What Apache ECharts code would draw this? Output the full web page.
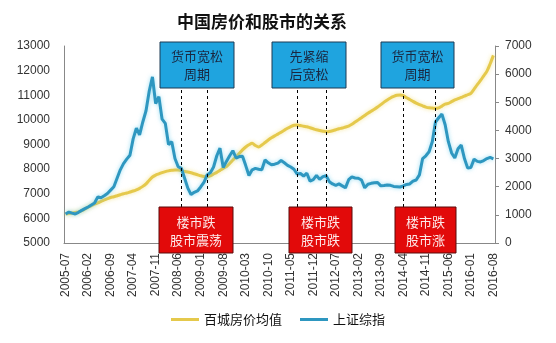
<!DOCTYPE html>
<html>
<head>
<meta charset="utf-8">
<script src="https://cdn.jsdelivr.net/npm/echarts@6/dist/echarts.min.js"></script>
<style>
  html, body { margin: 0; padding: 0; background: #fff; }
  #chart { width: 556px; height: 343px; }
</style>
</head>
<body>
<div id="chart"></div>
<script>
// Monthly samples, 2005-07 through 2016-08
const startYear = 2005, startMonth = 7, monthCount = 134;
const months = [];
for (let k = 0; k < monthCount; k++) {
  const m0 = startMonth - 1 + k;
  const y = startYear + Math.floor(m0 / 12);
  const m = (m0 % 12) + 1;
  months.push(y + '-' + (m < 10 ? '0' + m : '' + m));
}

// 百城房价均值 (元/平方米), left axis
const housePrice = [
  6180, 6200, 6220, 6240, 6260, 6310, 6380, 6450, 6520, 6580,
  6630, 6690, 6750, 6800, 6850, 6880, 6920, 6960, 7000, 7030,
  7070, 7110, 7160, 7220, 7300, 7400, 7550, 7680, 7760, 7810,
  7860, 7900, 7930, 7950, 7965, 7960, 7940, 7910, 7880, 7850,
  7810, 7770, 7730, 7700, 7690, 7730, 7800, 7870, 7950, 8030,
  8100, 8230, 8370, 8500, 8640, 8780, 8900, 8990, 9050, 8960,
  8900, 8980, 9080, 9180, 9270, 9350, 9420, 9500, 9580, 9660,
  9730, 9780, 9790, 9770, 9740, 9720, 9680, 9640, 9600, 9570,
  9540, 9520, 9530, 9560, 9600, 9640, 9670, 9710, 9750, 9820,
  9910, 10000, 10090, 10180, 10270, 10350, 10430, 10520, 10620, 10720,
  10810, 10890, 10950, 11000, 11010, 10980, 10900, 10830, 10750, 10680,
  10620, 10570, 10520, 10490, 10480, 10470, 10490, 10560, 10640, 10670,
  10740, 10810, 10860, 10910, 10960, 11020, 11080, 11250, 11430, 11600,
  11790, 11980, 12280, 12620
];

// 上证综指, right axis
const shIndex = [
  1030, 1100, 1060, 1030, 1090, 1160, 1220, 1280, 1350, 1420,
  1640, 1610, 1680, 1760, 1880, 2000, 2300, 2600, 2820, 2980,
  3120, 3700, 4080, 3840, 4300, 4700, 5400, 5900, 4950, 5200,
  4400, 4250, 3500, 3600, 3000, 2710, 2650, 2300, 1950, 1720,
  1800, 1850, 1990, 2150, 2420, 2500, 2700, 3100, 3370, 2680,
  2900, 3100, 3280, 3020, 3070, 3080, 2750, 2400, 2600, 2650,
  2620, 2600, 2950, 2850, 2780, 2800, 2840, 2930, 2850, 2760,
  2700, 2620, 2450, 2470, 2380, 2480, 2200, 2250, 2400, 2260,
  2360, 2390, 2180, 2100, 2050, 2100, 2030, 1960, 2250, 2350,
  2310, 2300, 2240, 1960, 2090, 2120, 2140, 2150, 2030, 2040,
  2060, 2050, 2010, 2000, 1990, 2030, 2080, 2100, 2200, 2240,
  2420, 3000, 3100, 3240, 3600, 4300, 4450, 4580, 4200, 3600,
  3200, 3020, 3350, 3480, 3000, 2660, 2680, 2980, 2900, 2880,
  2930, 3000, 3040, 2990
];

// Policy-period boundaries (dashed guides)
const periodMonths = ['2008-07', '2009-03', '2011-07', '2012-04', '2014-04', '2015-02'];

// Annotation texts
const policyNotes = ['货币宽松\n周期', '先紧缩\n后宽松', '货币宽松\n周期'];
const marketNotes = ['楼市跌\n股市震荡', '楼市跌\n股市跌', '楼市跌\n股市涨'];

const CJK = '"Noto Sans CJK SC", "Liberation Sans", sans-serif';
const LAT = '"Liberation Sans", Arial, sans-serif';
const yellow = '#e5c94c';
const blue = '#2e97c0';

// Annotation box placement
const policyBoxes = [
  { x: 160, w: 74 }, { x: 272, w: 74 }, { x: 381, w: 73 }
];
const marketBoxes = [
  { x: 159, w: 74 }, { x: 289, w: 63 }, { x: 395, w: 61 }
];

const graphics = [];
policyBoxes.forEach((b, k) => {
  graphics.push({
    type: 'rect', z: 100, silent: true,
    shape: { x: b.x, y: 42, width: b.w, height: 46 },
    style: { fill: '#1fa4df', stroke: '#1d3a55', lineWidth: 1 }
  });
  graphics.push({
    type: 'text', z: 101, silent: true,
    style: {
      text: policyNotes[k], x: b.x + b.w / 2, y: 65,
      align: 'center', verticalAlign: 'middle',
      fontSize: 13, fontFamily: CJK, lineHeight: 18, fill: '#1a2740'
    }
  });
});
marketBoxes.forEach((b, k) => {
  graphics.push({
    type: 'rect', z: 100, silent: true,
    shape: { x: b.x, y: 207, width: b.w, height: 46 },
    style: { fill: '#e20a0a', stroke: '#5a0a0a', lineWidth: 1 }
  });
  graphics.push({
    type: 'text', z: 101, silent: true,
    style: {
      text: marketNotes[k], x: b.x + b.w / 2, y: 231,
      align: 'center', verticalAlign: 'middle',
      fontSize: 13, fontFamily: CJK, lineHeight: 18, fill: '#fde8e8'
    }
  });
});

const plain = v => String(v);

const chart = echarts.init(document.getElementById('chart'), null, { renderer: 'canvas' });
chart.setOption({
  animation: false,
  backgroundColor: '#fff',
  title: {
    text: '中国房价和股市的关系',
    left: 172, top: 8,
    textStyle: { fontSize: 17, fontWeight: 'bold', fontFamily: CJK, color: '#111' }
  },
  legend: {
    bottom: 12, left: 'center',
    itemWidth: 28, itemHeight: 3, itemGap: 18,
    icon: 'rect',
    textStyle: { fontSize: 13, fontFamily: CJK, color: '#111' },
    data: ['百城房价均值', '上证综指']
  },
  grid: { left: 64, right: 61, top: 46, bottom: 100 },
  xAxis: {
    type: 'category',
    data: months,
    boundaryGap: true,
    axisLine: { lineStyle: { color: '#888' } },
    axisTick: { show: false },
    axisLabel: {
      interval: 6, rotate: 90, margin: 10,
      fontSize: 12, fontFamily: LAT, color: '#333'
    }
  },
  yAxis: [
    {
      type: 'value', min: 5000, max: 13000, interval: 1000,
      axisLine: { show: true, lineStyle: { color: '#888' } },
      axisTick: { show: false },
      splitLine: { show: false },
      axisLabel: { margin: 14, fontSize: 12, fontFamily: LAT, color: '#333', formatter: plain }
    },
    {
      type: 'value', min: 0, max: 7000, interval: 1000,
      axisLine: { show: true, lineStyle: { color: '#888' } },
      axisTick: { show: true, inside: false, length: 4, lineStyle: { color: '#888' } },
      splitLine: { show: false },
      axisLabel: { margin: 10, fontSize: 12, fontFamily: LAT, color: '#333', formatter: plain }
    }
  ],
  series: [
    {
      name: '百城房价均值', type: 'line', yAxisIndex: 0,
      data: housePrice, showSymbol: false, smooth: 0.3,
      lineStyle: { color: yellow, width: 3, shadowColor: 'rgba(240,215,90,0.6)', shadowBlur: 4 },
      itemStyle: { color: yellow },
      z: 3
    },
    {
      name: '上证综指', type: 'line', yAxisIndex: 1,
      data: shIndex, showSymbol: false,
      lineStyle: { color: blue, width: 3, shadowColor: 'rgba(90,200,235,0.6)', shadowBlur: 4 },
      itemStyle: { color: blue },
      z: 4,
      markLine: {
        silent: true, symbol: 'none',
        label: { show: false },
        lineStyle: { color: '#000', width: 1, type: [3, 3] },
        data: periodMonths.map(m => ({ xAxis: m }))
      }
    }
  ],
  graphic: graphics
});
</script>
</body>
</html>
